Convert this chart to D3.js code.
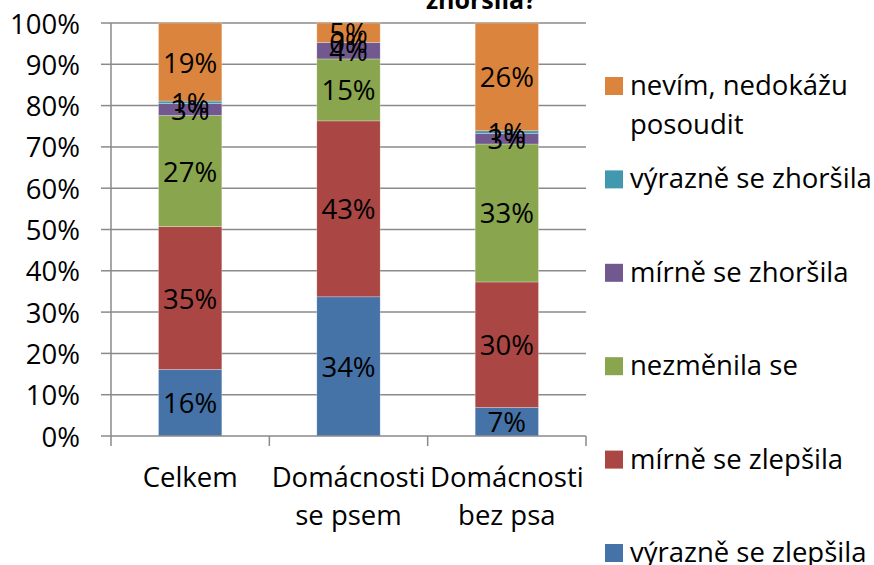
<!DOCTYPE html>
<html>
<head>
<meta charset="utf-8">
<script src="https://cdn.jsdelivr.net/npm/d3@7"></script>
<style>
  body { margin: 0; background: #fff; }
  svg { display: block; font-family: "Open Sans", "Noto Sans", sans-serif; }
</style>
</head>
<body>
<svg id="chart" width="874" height="565"></svg>
<script>
// Stacked 100% bar chart data
const categories = [["Celkem"], ["Domácnosti", "se psem"], ["Domácnosti", "bez psa"]];
const seriesNames = ["výrazně se zlepšila", "mírně se zlepšila", "nezměnila se",
                     "mírně se zhoršila", "výrazně se zhoršila", "nevím, nedokážu posoudit"];
const seriesColors = ["#4572A7", "#AA4643", "#89A54E", "#71588F", "#4198AF", "#DB843D"];

// shares in percent, one array per category, in series order
const celkem   = [16.1, 34.6, 26.9, 2.9, 0.6, 18.9];
const sePsem   = [33.7, 42.6, 15.0, 4.0, 0.0, 4.7];
const bezPsa   = [6.9, 30.4, 33.4, 2.6, 0.6, 26.1];
const yTicks = [0, 10, 20, 30, 40, 50, 60, 70, 80, 90, 100];

const rows = [celkem, sePsem, bezPsa].map((vals, i) => {
    const r = { idx: i };
    seriesNames.forEach((s, j) => r[s] = vals[j]);
    return r;
});

const svg = d3.select('#chart');
const plotLeft = 111, plotRight = 586, plotTop = 23, plotBottom = 436;
const fontSize = '27.5px';

const x = d3.scaleBand()
    .domain(d3.range(categories.length))
    .range([plotLeft, plotRight])
    .paddingInner(0.6)
    .paddingOuter(0.3);

const y = d3.scaleLinear().domain([0, 100]).range([plotBottom, plotTop]);

// Gridlines
svg.append('g')
    .selectAll('line')
    .data(yTicks.filter(d => d > 0))
    .join('line')
    .attr('x1', plotLeft).attr('x2', plotRight)
    .attr('y1', d => y(d)).attr('y2', d => y(d))
    .attr('stroke', '#8a8a8a')
    .attr('stroke-width', 1.5);

// Stacked bars
const stack = d3.stack().keys(seriesNames);
const layers = stack(rows);

const barG = svg.append('g');
layers.forEach((layer, j) => {
    barG.selectAll(null)
        .data(layer)
        .join('rect')
        .attr('x', (d, i) => x(i))
        .attr('width', x.bandwidth())
        .attr('y', d => y(d[1]))
        .attr('height', d => y(d[0]) - y(d[1]))
        .attr('fill', seriesColors[j])
        .attr('stroke', 'rgba(255,255,255,0.45)')
        .attr('stroke-width', 0.6);
});

// Data labels
layers.forEach((layer, j) => {
    barG.selectAll(null)
        .data(layer)
        .join('text')
        .attr('x', (d, i) => x(i) + x.bandwidth() / 2)
        .attr('y', d => y((d[0] + d[1]) / 2))
        .attr('text-anchor', 'middle')
        .attr('dominant-baseline', 'central')
        .style('font-size', fontSize)
        .style('fill', '#000')
        .text(d => Math.round(d.data[seriesNames[j]]) + '%');
});

// Y axis
const yAxis = svg.append('g');
yAxis.append('line')
    .attr('x1', plotLeft).attr('x2', plotLeft)
    .attr('y1', plotTop).attr('y2', plotBottom)
    .attr('stroke', '#8a8a8a').attr('stroke-width', 1.5);
yAxis.selectAll('line.tick')
    .data(yTicks)
    .join('line')
    .attr('class', 'tick')
    .attr('x1', plotLeft - 10).attr('x2', plotLeft)
    .attr('y1', d => y(d)).attr('y2', d => y(d))
    .attr('stroke', '#8a8a8a').attr('stroke-width', 1.5);
yAxis.selectAll('text')
    .data(yTicks)
    .join('text')
    .attr('x', 80)
    .attr('y', d => y(d))
    .attr('text-anchor', 'end')
    .attr('dominant-baseline', 'central')
    .style('font-size', fontSize)
    .style('fill', '#000')
    .text(d => d + '%');

// X axis
const xAxis = svg.append('g');
xAxis.append('line')
    .attr('x1', plotLeft).attr('x2', plotRight)
    .attr('y1', plotBottom).attr('y2', plotBottom)
    .attr('stroke', '#8a8a8a').attr('stroke-width', 1.5);
xAxis.selectAll('line.tick')
    .data(d3.range(categories.length + 1))
    .join('line')
    .attr('class', 'tick')
    .attr('x1', d => plotLeft + d * (plotRight - plotLeft) / categories.length)
    .attr('x2', d => plotLeft + d * (plotRight - plotLeft) / categories.length)
    .attr('y1', plotBottom).attr('y2', plotBottom + 10)
    .attr('stroke', '#8a8a8a').attr('stroke-width', 1.5);
categories.forEach((lines, i) => {
    const t = xAxis.append('text')
        .attr('text-anchor', 'middle')
        .style('font-size', fontSize)
        .style('fill', '#000');
    lines.forEach((ln, k) => {
        t.append('tspan')
            .attr('x', x(i) + x.bandwidth() / 2)
            .attr('y', 487 + k * 38)
            .text(ln);
    });
});

// Title (only its last line is visible)
svg.append('text')
    .attr('x', 481)
    .attr('y', 9)
    .attr('text-anchor', 'middle')
    .style('font-size', '25px')
    .style('font-weight', 'bold')
    .style('fill', '#000')
    .text('zhoršila?');

// Legend (reverse order, top = last series)
const legendItems = seriesNames.map((s, j) => ({ name: s, color: seriesColors[j] })).reverse();
const legendLines = [["nevím, nedokážu", "posoudit"], ["výrazně se zhoršila"], ["mírně se zhoršila"],
                     ["nezměnila se"], ["mírně se zlepšila"], ["výrazně se zlepšila"]];
const legend = svg.append('g');
legendItems.forEach((it, i) => {
    const cy = 86 + i * 93.4;
    legend.append('rect')
        .attr('x', 605).attr('y', cy - 9)
        .attr('width', 18).attr('height', 18)
        .attr('fill', it.color);
    const t = legend.append('text')
        .style('font-size', fontSize)
        .style('fill', '#000');
    legendLines[i].forEach((ln, k) => {
        t.append('tspan')
            .attr('x', 630)
            .attr('y', cy + 9 + k * 39)
            .text(ln);
    });
});
</script>
</body>
</html>
